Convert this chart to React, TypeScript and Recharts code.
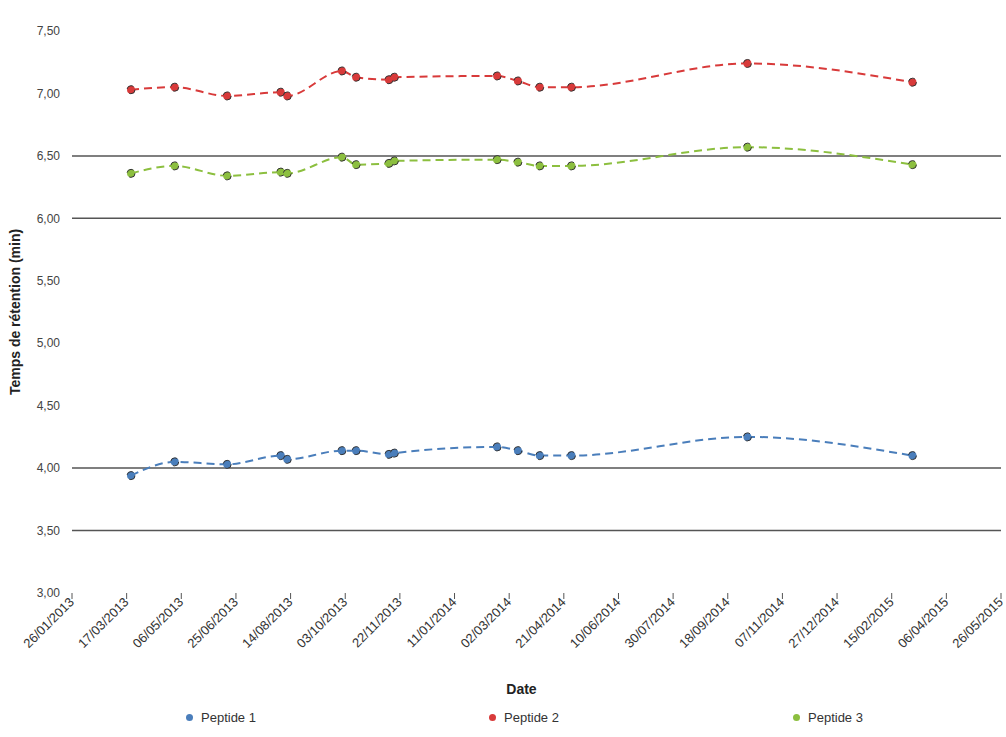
import React from 'react';
import {
  LineChart,
  Line,
  XAxis,
  YAxis,
  ReferenceLine,
} from 'recharts';

// x-axis ticks: every 50 days starting 26/01/2013
const TICK_DATES = [
  '26/01/2013', '17/03/2013', '06/05/2013', '25/06/2013', '14/08/2013', '03/10/2013',
  '22/11/2013', '11/01/2014', '02/03/2014', '21/04/2014', '10/06/2014', '30/07/2014',
  '18/09/2014', '07/11/2014', '27/12/2014', '15/02/2015', '06/04/2015', '26/05/2015',
];

const Y_TICKS = [3, 3.5, 4, 4.5, 5, 5.5, 6, 6.5, 7, 7.5];
const REF_LINES = [3.5, 4, 6, 6.5];

// measurement dates
const SAMPLE_DATES = [
  '21/03/2013', '30/04/2013', '17/06/2013', '05/08/2013', '11/08/2013', '30/09/2013',
  '13/10/2013', '12/11/2013', '17/11/2013', '19/02/2014', '10/03/2014', '30/03/2014',
  '28/04/2014', '06/10/2014', '06/03/2015',
];

const PEPTIDE_1 = [3.94, 4.05, 4.03, 4.10, 4.07, 4.14, 4.14, 4.11, 4.12, 4.17, 4.14, 4.10, 4.10, 4.25, 4.10];
const PEPTIDE_2 = [7.03, 7.05, 6.98, 7.01, 6.98, 7.18, 7.13, 7.11, 7.13, 7.14, 7.10, 7.05, 7.05, 7.24, 7.09];
const PEPTIDE_3 = [6.36, 6.42, 6.34, 6.37, 6.36, 6.49, 6.43, 6.44, 6.46, 6.47, 6.45, 6.42, 6.42, 6.57, 6.43];

const SERIES = [
  { key: 'p1', name: 'Peptide 1', color: '#4a7ebb' },
  { key: 'p2', name: 'Peptide 2', color: '#d83a3a' },
  { key: 'p3', name: 'Peptide 3', color: '#8cbf3f' },
];

const FONT = '"Liberation Sans", Arial, sans-serif';

function parseDate(s: string) {
  const [d, m, y] = s.split('/').map(Number);
  return Date.UTC(y, m - 1, d);
}

function fmtDate(t: number) {
  const d = new Date(t);
  const dd = String(d.getUTCDate()).padStart(2, '0');
  const mm = String(d.getUTCMonth() + 1).padStart(2, '0');
  return `${dd}/${mm}/${d.getUTCFullYear()}`;
}

const ticks = TICK_DATES.map(parseDate);

const data = SAMPLE_DATES.map((s, i) => ({
  t: parseDate(s),
  p1: PEPTIDE_1[i],
  p2: PEPTIDE_2[i],
  p3: PEPTIDE_3[i],
}));

function DateTick({ x, y, payload }: any) {
  return (
    <g transform={`translate(${x},${y - 1})`}>
      <text
        textAnchor="end"
        transform="rotate(-45)"
        fontSize={13}
        fill="#333"
        fontFamily={FONT}
        dy={4}
      >
        {fmtDate(payload.value)}
      </text>
    </g>
  );
}

export default function App() {
  return (
    <div style={{ position: 'absolute', left: 0, top: 0, width: 1006, height: 737, background: '#fff', fontFamily: FONT }}>
      <LineChart width={1006} height={737} data={data} margin={{ top: 31, right: 5, bottom: 39, left: 0 }}>
        <XAxis
          dataKey="t"
          type="number"
          scale="time"
          domain={[ticks[0], ticks[ticks.length - 1]]}
          ticks={ticks}
          interval={0}
          axisLine={false}
          tickLine={{ stroke: '#555' }}
          tickSize={6}
          height={105}
          tick={<DateTick />}
          label={{ value: 'Date', position: 'insideBottom', offset: 4, dx: -15, style: { fontSize: 14, fontWeight: 'bold', fill: '#222', fontFamily: FONT } }}
        />
        <YAxis
          type="number"
          domain={[3, 7.5]}
          ticks={Y_TICKS}
          width={72}
          axisLine={false}
          tickLine={false}
          tickMargin={6}
          tick={{ fontSize: 12, fill: '#444', fontFamily: FONT }}
          tickFormatter={(v: number) => v.toFixed(2).replace('.', ',')}
          label={{ value: 'Temps de rétention (min)', angle: -90, position: 'center', dx: -21, style: { fontSize: 14, fontWeight: 'bold', fill: '#222', fontFamily: FONT } }}
        />
        {REF_LINES.map((v) => (
          <ReferenceLine key={v} y={v} stroke="#555" strokeWidth={1.5} />
        ))}
        {SERIES.map((s) => (
          <Line
            key={s.key}
            dataKey={s.key}
            name={s.name}
            type="monotone"
            stroke={s.color}
            strokeWidth={2}
            strokeDasharray="8 5"
            dot={{ r: 4, fill: s.color, stroke: '#333', strokeWidth: 1 }}
            isAnimationActive={false}
          />
        ))}
      </LineChart>
      {SERIES.map((s, i) => (
        <div
          key={s.key}
          style={{ position: 'absolute', left: [186, 489, 793][i], top: 710, display: 'flex', alignItems: 'center', fontSize: 13, color: '#333' }}
        >
          <span style={{ width: 7, height: 7, borderRadius: '50%', background: s.color, marginRight: 8 }} />
          {s.name}
        </div>
      ))}
    </div>
  );
}
